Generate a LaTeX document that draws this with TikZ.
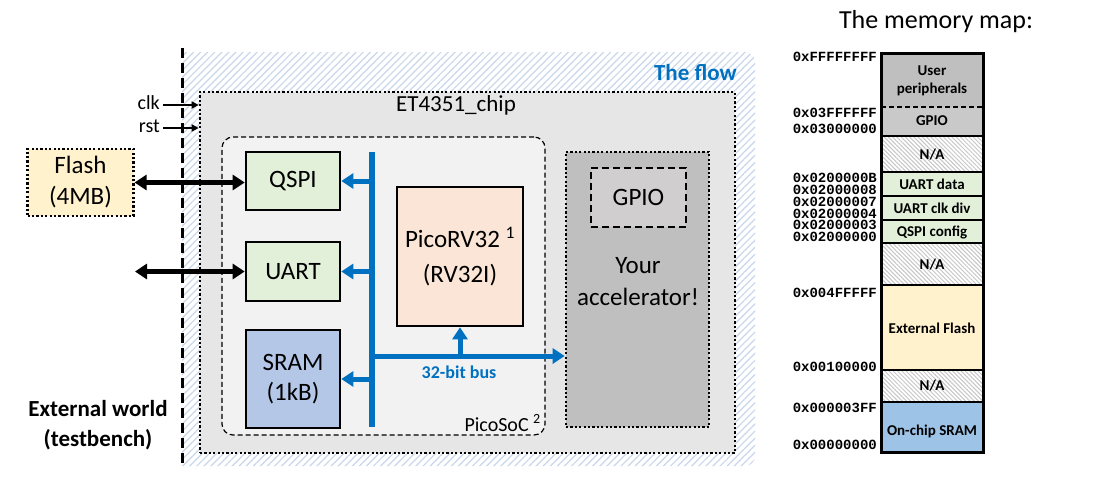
\documentclass[tikz,border=0pt]{standalone}
\usepackage{fontspec}
\setmainfont{Carlito}
\newfontfamily\addrfont{Liberation Mono}
\usetikzlibrary{arrows.meta,patterns.meta}
\definecolor{tudblue}{HTML}{0070C0}
\definecolor{hatchblue}{HTML}{C9D7EC}
\definecolor{chipgray}{HTML}{E6E6E6}
\definecolor{socgray}{HTML}{F2F2F2}
\definecolor{accgray}{HTML}{BFBFBF}
\definecolor{gpiogray}{HTML}{D0CECE}
\definecolor{pgreen}{HTML}{E2F0D9}
\definecolor{pblue}{HTML}{B4C7E7}
\definecolor{porange}{HTML}{FBE5D6}
\definecolor{pyellow}{HTML}{FFF2CC}
\definecolor{mblue}{HTML}{9DC3E6}
\definecolor{mgray}{HTML}{BFBFBF}
\definecolor{mgpio}{HTML}{C9C9C9}
\newcommand\fsz[2]{\fontsize{#1}{#2}\selectfont}
\begin{document}
\begin{tikzpicture}[x=1pt,y=-1pt,
  blk/.style={draw=black, line width=2.6pt, inner sep=0pt, align=center, font={\fsz{25}{31}}},
  dotbox/.style={draw=black, line width=2.6pt, dash pattern=on 2.2pt off 2.2pt},
  busline/.style={draw=tudblue, line width=5pt, -{Triangle[length=12pt,width=15pt]}},
  extarrow/.style={draw=black, line width=4.4pt, {Triangle[length=12pt,width=15pt]}-{Triangle[length=12pt,width=15pt]}},
  sigarrow/.style={draw=black, -{Triangle[length=7pt,width=7pt]}},
  addr/.style={anchor=east, inner sep=0pt, font={\addrfont\bfseries\fsz{14}{14}}},
  mtext/.style={inner sep=0pt, align=center, font={\bfseries\fsz{15}{18}}},
  nahatch/.style={fill=white, postaction={pattern={Lines[angle=-45,distance=3pt,line width=1pt]}, pattern color=gray!45}}
]
\useasboundingbox (0,0) rectangle (1099,479);

% ---------- flow region ----------
\fill[white] (182,52) -- (745,52) .. controls (750.5,52) and (755,56.5) .. (755,62) -- (755,456) .. controls (755,461.5) and (750.5,466) .. (745,466) -- (182,466) -- cycle;
\path[pattern={Lines[angle=45,distance=5pt,line width=1.2pt]}, pattern color=hatchblue]
  (182,52) -- (745,52) .. controls (750.5,52) and (755,56.5) .. (755,62) -- (755,456) .. controls (755,461.5) and (750.5,466) .. (745,466) -- (182,466) -- cycle;
\node[anchor=east, inner sep=0pt, text=tudblue, font={\bfseries\fsz{23}{23}}] (flowlbl) at (737,73) {The flow};

% boundary of the external world
\coordinate (wtop) at (182,48);
\coordinate (wbot) at (182,467);
\draw[line width=3pt, dash pattern=on 10pt off 5pt] (wtop) -- (wbot);

% ---------- chip ----------
\node[dotbox, fill=chipgray, minimum width=535pt, minimum height=361pt, inner sep=0pt] (chip) at (467.5,272.5) {};
\node[inner sep=0pt, font={\fsz{23}{23}}] (chiplbl) at (456,105) {ET4351\_chip};

% ---------- PicoSoC ----------
\node[draw=black, line width=1.2pt, dash pattern=on 5pt off 3pt, rounded corners=11pt, fill=socgray,
      minimum width=323pt, minimum height=298pt, inner sep=0pt] (soc) at (383.5,286) {};
\node[anchor=base east, inner sep=0pt, font={\fsz{20}{20}}] (soclbl) at (541,431) {PicoSoC \textsuperscript{2}};

% ---------- blocks ----------
\node[blk, fill=pgreen, minimum width=94pt, minimum height=58pt] (qspi) at (293,181) {QSPI};
\node[blk, fill=pgreen, minimum width=94pt, minimum height=59pt] (uart) at (293,271.5) {UART};
\node[blk, fill=pblue, minimum width=94pt, minimum height=98pt, font={\fsz{25}{30}}] (sram) at (293,379) {SRAM\\(1kB)};
\node[blk, fill=porange, minimum width=126pt, minimum height=139pt, font={\fsz{25}{35}}] (cpu) at (460,256.5) {PicoRV32 \textsuperscript{1}\\(RV32I)};

% accelerator
\node[dotbox, fill=accgray, minimum width=143pt, minimum height=275pt, inner sep=0pt] (acc) at (637.5,289.5) {};
\node[draw=black, line width=2pt, dash pattern=on 7pt off 4pt, fill=gpiogray, minimum width=95pt, minimum height=59pt,
      inner sep=0pt, font={\fsz{25}{25}}] (gpio) at (638.5,197.5) {GPIO};
\node[inner sep=0pt, align=center, font={\fsz{25}{32}}] (acctext) at (638,282) {Your\\accelerator!};

% ---------- bus ----------
\coordinate (bus) at (372,0);
\coordinate (hbus) at (0,356);
\coordinate (bustop) at (372,152);
\coordinate (busbot) at (372,427);
\draw[draw=tudblue, line width=6pt] (bustop) -- (busbot);
\draw[busline] (bus |- qspi.east) -- (qspi.east);
\draw[busline] (bus |- uart.east) -- (uart.east);
\draw[busline] (bus |- sram.east) -- (sram.east);
\draw[busline] (bus |- hbus) -- (acc.west |- hbus);
\draw[busline] (cpu.south |- hbus) -- (cpu.south);
\node[inner sep=0pt, text=tudblue, font={\bfseries\fsz{18}{18}}] (buslbl) at (459,372) {32-bit bus};

% ---------- external world ----------
\node[dotbox, line width=2.2pt, fill=pyellow, minimum width=106pt, minimum height=67pt, inner sep=0pt,
      align=center, font={\fsz{25}{31}}] (flash) at (80.5,182.5) {Flash\\(4MB)};
\draw[extarrow] (flash.east) -- (flash.east -| qspi.west);
\coordinate (uartext) at (135,271.5);
\draw[extarrow] (uartext) -- (uart.west);

\coordinate (clkin) at (163,105);
\coordinate (rstin) at (163,128);
\draw[sigarrow, line width=2.6pt] (clkin) -- (clkin -| chip.west);
\draw[sigarrow, line width=1.8pt] (rstin) -- (rstin -| chip.west);
\node[anchor=east, inner sep=0pt, font={\fsz{20}{20}}] (clklbl) at (160,103) {clk};
\node[anchor=east, inner sep=0pt, font={\fsz{20}{20}}] (rstlbl) at (160,126) {rst};

\node[inner sep=0pt, align=center, font={\bfseries\fsz{23}{30}}] (extlbl) at (98,425) {External world\\(testbench)};

% ---------- memory map ----------
\node[inner sep=0pt, font={\fsz{26}{26}}] (mmtitle) at (936,22) {The memory map:};

\fill[mgray] (881,53) rectangle (983,107);
\fill[mgpio] (881,107) rectangle (983,136);
\path[nahatch] (881,136) rectangle (983,172);
\fill[pgreen] (881,172) rectangle (983,243);
\path[nahatch] (881,243) rectangle (983,285);
\fill[pyellow] (881,285) rectangle (983,370);
\path[nahatch] (881,370) rectangle (983,402);
\fill[mblue] (881,402) rectangle (983,452);

\draw[line width=2pt, dash pattern=on 5pt off 3pt] (881,107) -- (983,107);
\foreach \yy in {136,172,196,220,243,285,370,402}
  \draw[line width=2.4pt] (881,\yy) -- (983,\yy);
\draw[line width=3pt] (881,53) rectangle (983,452);

\node[mtext] (mUser) at (932,81) {User\\peripherals};
\node[mtext] (mGpio) at (932,121) {GPIO};
\node[mtext] (mNa1) at (932,155) {N/A};
\node[mtext] (mUd) at (932,184) {UART data};
\node[mtext] (mUc) at (932,208) {UART clk div};
\node[mtext] (mQc) at (932,232) {QSPI config};
\node[mtext] (mNa2) at (932,265) {N/A};
\node[mtext] (mFl) at (932,328) {External Flash};
\node[mtext] (mNa3) at (932,386) {N/A};
\node[mtext] (mSr) at (932,431) {On-chip SRAM};

\node[addr] (a1) at (877,57) {0xFFFFFFFF};
\node[addr] (a2) at (877,113) {0x03FFFFFF};
\node[addr] (a3) at (877,129) {0x03000000};
\node[addr] (a4) at (877,178) {0x0200000B};
\node[addr] (a5) at (877,189.8) {0x02000008};
\node[addr] (a6) at (877,201.6) {0x02000007};
\node[addr] (a7) at (877,213.4) {0x02000004};
\node[addr] (a8) at (877,225.2) {0x02000003};
\node[addr] (a9) at (877,237) {0x02000000};
\node[addr] (a10) at (877,293) {0x004FFFFF};
\node[addr] (a11) at (877,367) {0x00100000};
\node[addr] (a12) at (877,408) {0x000003FF};
\node[addr] (a13) at (877,445) {0x00000000};
\end{tikzpicture}
\end{document}
